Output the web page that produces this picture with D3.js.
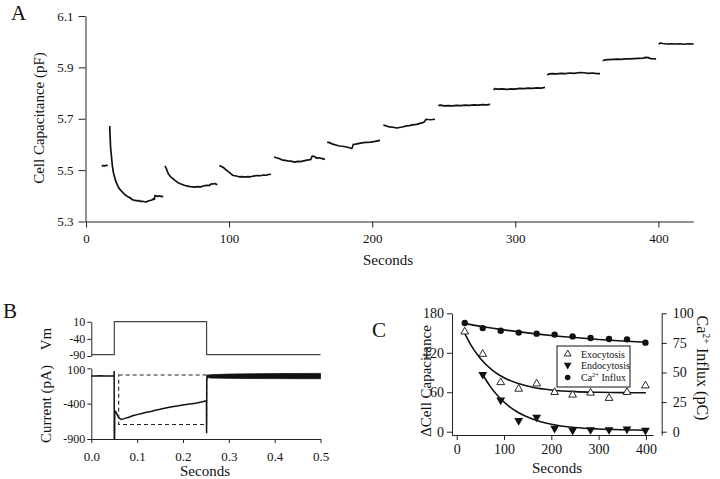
<!DOCTYPE html>
<html><head><meta charset="utf-8">
<script src="https://cdn.jsdelivr.net/npm/d3@7"></script>
<style>
body{margin:0;background:#fff}
svg{display:block}
text{font-family:"Liberation Serif","Times New Roman",serif;fill:#111}
</style>
</head><body>
<svg id="c" width="720" height="479"></svg>
<script>
// ---------------- DATA ----------------
// Panel A: cell capacitance trace segments [seconds, pF]
const capSegments = [
  [[11,5.515],[12,5.518],[13,5.516],[14,5.519],[15.2,5.517]],
  [[16.6,5.672],[16.8,5.636],[17.2,5.587],[17.5,5.57],[18.4,5.518],[19.1,5.492],[20.3,5.466],[21.5,5.447],[23,5.430],[25,5.417],[27,5.405],[29.6,5.395],[31,5.392],[32,5.386],[34.2,5.382],[36,5.380],[37,5.382],[38,5.378],[40,5.378],[42,5.376],[43,5.379],[44.7,5.382],[46,5.383],[47,5.388],[47.8,5.386],[48.2,5.401],[49,5.400],[50.5,5.398],[51.5,5.400],[52.5,5.397],[54,5.398]],
  [[55.2,5.516],[56,5.508],[57.5,5.486],[59,5.475],[60.5,5.468],[62.2,5.460],[64,5.452],[66,5.447],[69.2,5.440],[71,5.438],[73,5.436],[76.2,5.434],[78,5.436],[80,5.435],[83.2,5.440],[85,5.441],[86,5.440],[87.9,5.447],[89,5.446],[90,5.448],[91.8,5.443]],
  [[93.2,5.518],[95,5.513],[96.5,5.508],[98.3,5.499],[100,5.492],[101.5,5.484],[103,5.479],[105,5.477],[107,5.474],[109,5.475],[111.1,5.473],[113,5.475],[115,5.474],[117,5.477],[120.4,5.479],[122,5.478],[124,5.481],[126,5.480],[127.5,5.483],[129.3,5.484]],
  [[131.4,5.551],[133,5.548],[134.5,5.546],[136.8,5.540],[139,5.538],[141,5.536],[143,5.535],[146.1,5.531],[148,5.534],[150,5.533],[152,5.536],[155.4,5.540],[157,5.541],[157.6,5.549],[158.2,5.555],[159.5,5.553],[161.2,5.547],[163,5.548],[165,5.545],[167,5.542]],
  [[168.6,5.609],[170.5,5.606],[172.5,5.601],[175.2,5.597],[177,5.594],[179,5.593],[182.2,5.590],[184,5.587],[185.7,5.584],[186.2,5.590],[186.8,5.600],[188.5,5.601],[191,5.604],[193.8,5.607],[196,5.608],[199,5.609],[202,5.612],[205.5,5.616]],
  [[207.8,5.675],[210,5.672],[212,5.668],[214.5,5.667],[217.2,5.664],[219,5.666],[221,5.668],[224.1,5.672],[226,5.673],[228,5.676],[231,5.678],[233.4,5.682],[235,5.684],[236.5,5.688],[237.6,5.698],[239,5.697],[241,5.696],[243.9,5.698]],
  [[246.2,5.752],[248,5.753],[250,5.750],[253,5.751],[256,5.750],[259.1,5.752],[262,5.751],[265,5.753],[268,5.752],[271,5.754],[274,5.753],[277,5.755],[280,5.754],[282.4,5.756]],
  [[284.7,5.813],[286,5.817],[288,5.815],[291,5.816],[294,5.814],[297,5.816],[300,5.815],[303,5.818],[306,5.817],[309,5.819],[312,5.818],[315,5.820],[318,5.819],[320.8,5.822]],
  [[322.4,5.870],[323.5,5.875],[326,5.876],[329,5.875],[332,5.877],[335,5.876],[338,5.878],[341,5.877],[344,5.879],[345.3,5.880],[348,5.879],[351,5.877],[354,5.878],[357,5.876],[359.2,5.876]],
  [[361.1,5.926],[362.5,5.929],[365,5.930],[368.5,5.931],[371,5.932],[374,5.931],[377,5.933],[380,5.933],[383,5.934],[386,5.935],[389.5,5.936],[391,5.939],[393,5.938],[394.5,5.934],[398.4,5.933]],
  [[400.2,5.991],[401.5,5.995],[403,5.993],[406,5.991],[409,5.992],[412,5.991],[415,5.992],[418,5.990],[421,5.992],[424.7,5.991]]
];
const aXTicks = [0,100,200,300,400];
const aYTicks = [5.3,5.5,5.7,5.9,6.1];

// Panel B: membrane voltage (mV) and current (pA) vs seconds
const vmT = [0,0.0502,0.0502,0.2515,0.2515,0.5];
const vmV = [-86,-86,10,10,-86,-86];
const curT = [0,0.01,0.02,0.03,0.04,0.0495,0.0499,0.0501,0.0508,0.0512,0.053,0.055,0.058,0.062,0.066,0.07,0.075,0.08,0.085,0.09,0.1,0.11,0.12,0.13,0.14,0.15,0.16,0.17,0.18,0.19,0.2,0.21,0.22,0.23,0.24,0.249,0.2512,0.2515,0.2519,0.254,0.258];
const curV = [-8,-10,-7,-9,-8,-8,62,-900,-900,-520,-510,-535,-580,-610,-622,-615,-605,-595,-585,-572,-555,-540,-522,-510,-492,-480,-465,-452,-440,-430,-418,-410,-400,-390,-378,-362,-360,-820,-60,-20,-10];
const bandT = [0.2515,0.26,0.3,0.35,0.4,0.45,0.5];
const bandHi = [0,10,18,22,25,27,28];
const bandLo = [-25,-38,-42,-45,-46,-47,-48];
const boxT = [0.0597,0.2515];
const boxV = [5,-695];
const bXTicks = [0,0.1,0.2,0.3,0.4,0.5];
const vmTicks = [10,-40,-90];
const curTicks = [100,-400,-900];

// Panel C
const cT = [17,55,93,131,169,207,245,283,322,360,399];
const exoVals = [152,118,75,65,73,60,56,59,51,60,70];
const endoT = [55,93,131,169,207,245,283,322,360,399];
const endoVals = [87,48,17,22,5,2,3,3,4,2];
const caVals = [91.8,87.5,85.2,83.7,82.8,82.0,80.5,79.2,78.3,78.0,75.2];
const exoFitT = [15,30,50,75,100,130,160,200,250,300,350,400];
const exoFitV = [152,131.7,111.4,93.8,82,73.2,67.7,63.5,60.9,59.9,59.4,59.2];
const endoFitT = [55,70,90,110,130,160,200,250,300,350,400];
const endoFitV = [87,69.7,52,39,29.3,19.4,11.4,6.4,4.1,2.9,2.2];
const caFitT = [15,55,100,150,200,250,300,350,400];
const caFitV = [91.5,88.7,86.0,83.5,81.3,79.5,77.9,76.6,75.5];
const cXTicks = [0,100,200,300,400];
const cLTicks = [0,60,120,180];
const cRTicks = [0,25,50,75,100];

// ---------------- DRAW ----------------
const svg = d3.select("#c");
const FONT = '"Liberation Serif","Times New Roman",serif';
const plain = d => String(d);
function styleAxis(g, size){
  g.attr("font-family",FONT).attr("font-size",size);
  g.selectAll("path,line").attr("stroke","#222").attr("stroke-width",1);
  g.selectAll("text").attr("font-family",FONT).attr("font-size",size).attr("fill","#111");
}

// ===== Panel A =====
const xA = d3.scaleLinear().domain([0,424.4]).range([86,693.3]);
const yA = d3.scaleLinear().domain([5.3,6.1]).range([221.5,16]);
svg.append("g").attr("transform","translate(0,221.5)")
  .call(d3.axisBottom(xA).tickValues(aXTicks).tickFormat(plain).tickSize(6).tickSizeOuter(0).tickPadding(6))
  .call(g=>styleAxis(g,13));
svg.append("g").attr("transform","translate(85.5,0)")
  .call(d3.axisLeft(yA).tickValues(aYTicks).tickFormat(d3.format(".1f")).tickSize(7).tickSizeOuter(0).tickPadding(5))
  .call(g=>styleAxis(g,13));
const lineA = d3.line().x(d=>xA(d[0])).y(d=>yA(d[1]));
svg.append("g").selectAll("path").data(capSegments).join("path")
  .attr("d",lineA).attr("fill","none").attr("stroke","#111").attr("stroke-width",1.7)
  .attr("stroke-linejoin","round");
svg.append("text").attr("x",388).attr("y",265).attr("text-anchor","middle").attr("font-size",15).text("Seconds");
svg.append("text").attr("transform","translate(44,118) rotate(-90)").attr("text-anchor","middle").attr("font-size",15).text("Cell Capacitance (pF)");
svg.append("text").attr("x",11).attr("y",20).attr("font-size",21).text("A");

// ===== Panel B =====
const xB = d3.scaleLinear().domain([0,0.5]).range([91.3,320.5]);
const yVm = d3.scaleLinear().domain([-90,10]).range([356,321.7]);
const yCur = d3.scaleLinear().domain([-900,100]).range([439,368.3]);
svg.append("g").attr("transform","translate(91.3,0)")
  .call(d3.axisLeft(yVm).tickValues(vmTicks).tickFormat(plain).tickSize(4).tickSizeOuter(0).tickPadding(2))
  .call(g=>styleAxis(g,12))
  .call(g=>g.selectAll(".tick text").filter(d=>d===-90).attr("dy","0.2em"));
svg.append("g").attr("transform","translate(91.3,0)")
  .call(d3.axisLeft(yCur).tickValues(curTicks).tickFormat(plain).tickSize(4).tickSizeOuter(0).tickPadding(2))
  .call(g=>styleAxis(g,12))
  .call(g=>g.selectAll(".tick text").filter(d=>d===100).attr("dy","0.42em"));
svg.append("g").attr("transform","translate(0,439)")
  .call(d3.axisBottom(xB).tickValues(bXTicks).tickFormat(d3.format(".1f")).tickSize(4).tickSizeOuter(0).tickPadding(9))
  .call(g=>styleAxis(g,13));
svg.append("path").attr("d", d3.line().x(i=>xB(vmT[i])).y(i=>yVm(vmV[i]))(d3.range(vmT.length)))
  .attr("fill","none").attr("stroke","#444").attr("stroke-width",1.2);
// dashed box
svg.append("rect").attr("x",xB(boxT[0])).attr("y",yCur(boxV[0]))
  .attr("width",xB(boxT[1])-xB(boxT[0])).attr("height",yCur(boxV[1])-yCur(boxV[0]))
  .attr("fill","none").attr("stroke","#222").attr("stroke-width",1.1).attr("stroke-dasharray","4,3");
svg.append("path").attr("d", d3.line().x(i=>xB(curT[i])).y(i=>yCur(curV[i]))(d3.range(curT.length)))
  .attr("fill","none").attr("stroke","#111").attr("stroke-width",1.5);
svg.append("path").attr("d", d3.area().x(i=>xB(bandT[i])).y0(i=>yCur(bandLo[i])).y1(i=>yCur(bandHi[i]))(d3.range(bandT.length)))
  .attr("fill","#111").attr("stroke","#111").attr("stroke-width",0.8);
svg.append("text").attr("transform","translate(51,339) rotate(-90)").attr("text-anchor","middle").attr("font-size",15).text("Vm");
svg.append("text").attr("transform","translate(51,404) rotate(-90)").attr("text-anchor","middle").attr("font-size",15).text("Current (pA)");
svg.append("text").attr("x",205).attr("y",476).attr("text-anchor","middle").attr("font-size",15).text("Seconds");
svg.append("text").attr("x",3).attr("y",318).attr("font-size",21).text("B");

// ===== Panel C =====
const xC = d3.scaleLinear().domain([-10,415]).range([452,653]);
const yCL = d3.scaleLinear().domain([-5,180]).range([435,313.3]);
const yCR = d3.scaleLinear().domain([-2.78,100]).range([435,313.3]);
svg.append("g").attr("transform","translate(0,435)")
  .call(d3.axisBottom(xC).tickValues(cXTicks).tickFormat(plain).tickSize(5).tickSizeOuter(0).tickPadding(4))
  .call(g=>styleAxis(g,14));
svg.append("g").attr("transform","translate(452,0)")
  .call(d3.axisLeft(yCL).tickValues(cLTicks).tickFormat(plain).tickSize(5).tickSizeOuter(0).tickPadding(3))
  .call(g=>styleAxis(g,14));
svg.append("g").attr("transform","translate(661.7,0)")
  .call(d3.axisRight(yCR).tickValues(cRTicks).tickFormat(plain).tickSize(5).tickSizeOuter(0).tickPadding(6))
  .call(g=>styleAxis(g,14));
const fitLine = (T,V,ys)=>d3.line().curve(d3.curveMonotoneX).x(i=>xC(T[i])).y(i=>ys(V[i]))(d3.range(T.length));
svg.append("path").attr("d",fitLine(exoFitT,exoFitV,yCL)).attr("fill","none").attr("stroke","#111").attr("stroke-width",1.6);
svg.append("path").attr("d",fitLine(endoFitT,endoFitV,yCL)).attr("fill","none").attr("stroke","#111").attr("stroke-width",1.6);
svg.append("path").attr("d",fitLine(caFitT,caFitV,yCR)).attr("fill","none").attr("stroke","#111").attr("stroke-width",1.6);
const triUp = d3.symbol().type(d3.symbolTriangle).size(26);
const triDown = d3.symbol().type(d3.symbolTriangle).size(34);
svg.append("g").selectAll("path").data(d3.range(cT.length)).join("path")
  .attr("transform",i=>`translate(${xC(cT[i])},${yCL(exoVals[i])})`).attr("d",triUp())
  .attr("fill","#fff").attr("stroke","#111").attr("stroke-width",0.9);
svg.append("g").selectAll("path").data(d3.range(endoT.length)).join("path")
  .attr("transform",i=>`translate(${xC(endoT[i])},${yCL(endoVals[i])}) rotate(180)`).attr("d",triDown())
  .attr("fill","#111");
svg.append("g").selectAll("circle").data(d3.range(cT.length)).join("circle")
  .attr("cx",i=>xC(cT[i])).attr("cy",i=>yCR(caVals[i])).attr("r",3.2).attr("fill","#111");
// legend
const lg = svg.append("g");
lg.append("rect").attr("x",557).attr("y",346).attr("width",73).attr("height",41)
  .attr("fill","#fff").attr("stroke","#111").attr("stroke-width",1);
lg.append("path").attr("transform","translate(567.7,354)").attr("d",d3.symbol().type(d3.symbolTriangle).size(20)())
  .attr("fill","#fff").attr("stroke","#111").attr("stroke-width",0.9);
lg.append("path").attr("transform","translate(567.7,365) rotate(180)").attr("d",d3.symbol().type(d3.symbolTriangle).size(26)())
  .attr("fill","#111");
lg.append("circle").attr("cx",567.7).attr("cy",377.5).attr("r",2.8).attr("fill","#111");
lg.append("text").attr("x",581).attr("y",357.5).attr("font-size",10).text("Exocytosis");
lg.append("text").attr("x",581).attr("y",369).attr("font-size",10).text("Endocytosis");
const caT = lg.append("text").attr("x",581).attr("y",381).attr("font-size",10);
caT.append("tspan").text("Ca");
caT.append("tspan").attr("dy",-4).attr("font-size",6.5).text("2+");
caT.append("tspan").attr("dy",4).text(" Influx");
svg.append("text").attr("transform","translate(431,381) rotate(-90)").attr("text-anchor","middle").attr("font-size",15).text("\u0394Cell Capacitance");
const rl = svg.append("text").attr("transform","translate(697,368) rotate(90)").attr("text-anchor","middle").attr("font-size",16);
rl.append("tspan").text("Ca");
rl.append("tspan").attr("dy",-6).attr("font-size",10).text("2+");
rl.append("tspan").attr("dy",6).text(" Influx (pC)");
svg.append("text").attr("x",557).attr("y",473).attr("text-anchor","middle").attr("font-size",15).text("Seconds");
svg.append("text").attr("x",372).attr("y",337).attr("font-size",21).text("C");
</script>
</body></html>
